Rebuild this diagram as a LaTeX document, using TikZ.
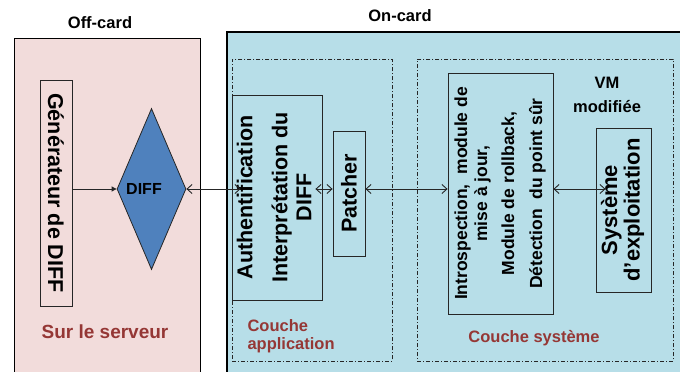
\documentclass[tikz,border=0pt]{standalone}
\usepackage{fontspec}
\setmainfont{Liberation Sans}
\usepackage{graphicx}
\usetikzlibrary{shapes.geometric,arrows.meta}
\definecolor{offpink}{HTML}{F2DCDB}
\definecolor{onblue}{HTML}{B7DEE8}
\definecolor{diffblue}{HTML}{4F81BD}
\definecolor{darkred}{HTML}{953735}
\definecolor{linegrey}{HTML}{262626}
\begin{document}
\begin{tikzpicture}[x=1pt,y=-1pt,
  box/.style={draw=linegrey, line width=0.8pt, inner sep=0pt, font=\bfseries},
  region/.style={draw=black, anchor=north west, inner sep=0pt},
  layer/.style={draw=linegrey, line width=0.7pt, anchor=north west, inner sep=0pt,
                dash pattern=on 4pt off 2pt on 1pt off 2pt},
  biarrow/.style={draw=linegrey, line width=0.9pt,
                  {Straight Barb[length=5pt,width=9pt]}-{Straight Barb[length=5pt,width=9pt]}},
  lbl/.style={font=\bfseries\fontsize{16.5}{20}\selectfont},
  redlbl/.style={text=darkred}]
\useasboundingbox (0,0) rectangle (680,372);
\clip (0,0) rectangle (680,372);
\fill[white] (0,0) rectangle (680,372);
% regions
\node[region, fill=offpink, line width=1.2pt, minimum width=186pt, minimum height=380pt] (off) at (14,38) {};
\node[region, fill=onblue, line width=1.8pt, minimum width=480pt, minimum height=380pt] (on) at (226,31) {};
\node[layer, minimum width=160pt, minimum height=302pt] (applayer) at (232,59) {};
\node[layer, minimum width=256pt, minimum height=302pt] (syslayer) at (417,59) {};
% boxes
\node[box, minimum width=32pt, minimum height=226pt, font=\bfseries\fontsize{21.5}{24}\selectfont] (gen) at (56,193)
  {\rotatebox{-90}{Générateur de DIFF}};
\node[diamond, draw=linegrey, line width=0.8pt, fill=diffblue, aspect=0.43, inner sep=0pt,
      minimum width=69pt, minimum height=161pt] (diff) at (151.5,189) {};
\node[font=\bfseries\fontsize{16}{19}\selectfont] (difftext) at (144,189) {DIFF};
\node[box, minimum width=90pt, minimum height=205pt, font=\bfseries\fontsize{21.5}{24}\selectfont] (auth) at (277,197.5)
  {\rotatebox{90}{\begin{tabular}{@{}c@{}}Authentification\\[11pt]Interprétation du\\DIFF\end{tabular}}};
\node[box, minimum width=32pt, minimum height=125pt, font=\bfseries\fontsize{21.5}{24}\selectfont] (patcher) at (349,193.5)
  {\rotatebox{90}{Patcher}};
\node[box, minimum width=105pt, minimum height=241pt, font=\bfseries\fontsize{17.5}{20}\selectfont] (intro) at (500.5,193.5)
  {\rotatebox{90}{\begin{tabular}{@{}c@{}}Introspection,\ \ module de\\mise à jour,\\[7pt]Module de rollback,\\[8pt]Détection\ \ du point sûr\end{tabular}}};
\node[box, minimum width=55pt, minimum height=164pt, font=\bfseries\fontsize{22}{22}\selectfont] (sysexp) at (623.5,210)
  {\rotatebox{90}{\begin{tabular}{@{}c@{}}Système\\d'exploitation\end{tabular}}};
% labels
\node[lbl] (offlbl) at (100,23) {Off-card};
\node[lbl] (onlbl) at (400,16) {On-card};
\node[lbl, redlbl, font=\bfseries\fontsize{19}{22}\selectfont] (serv) at (105,332) {Sur le serveur};
\node[lbl, redlbl, font=\bfseries\fontsize{16.5}{18}\selectfont, align=left, anchor=west] (applbl) at (244,336) {Couche\\application};
\node[lbl, redlbl] (syslbl) at (534,338) {Couche système};
\node[lbl, font=\bfseries\fontsize{16.5}{24}\selectfont, align=center] (vm) at (607,94.5) {VM\\modifiée};
% connectors
\draw[draw=linegrey, line width=0.8pt, -{Triangle[length=5pt,width=5pt]}] (gen.east |- diff.west) -- (diff.west);
\draw[biarrow] (diff.east) -- ([xshift=9pt]auth.west |- diff.east);
\draw[biarrow] ([xshift=-7pt]auth.east |- diff.east) -- (patcher.west |- diff.east);
\draw[biarrow] (patcher.east |- diff.east) -- (intro.west |- diff.east);
\draw[biarrow] (intro.east |- diff.east) -- ([xshift=10pt]sysexp.west |- diff.east);
\end{tikzpicture}
\end{document}
